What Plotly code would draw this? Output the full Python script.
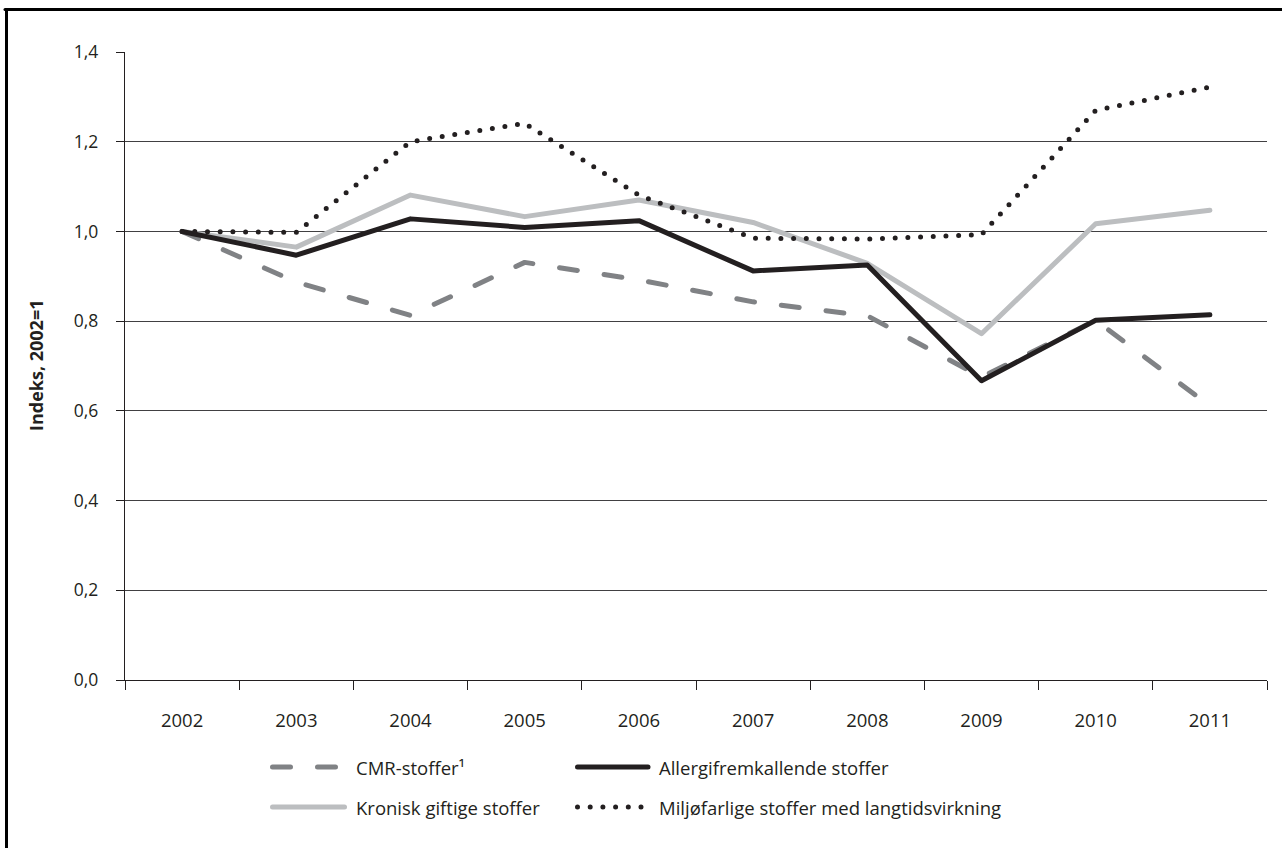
import plotly.graph_objects as go

# ---- data ----
years = ["2002", "2003", "2004", "2005", "2006", "2007", "2008", "2009", "2010", "2011"]
cmr = [1.0, 0.887, 0.813, 0.931, 0.892, 0.843, 0.812, 0.675, 0.802, 0.611]
allergi = [1.0, 0.947, 1.028, 1.009, 1.024, 0.912, 0.925, 0.667, 0.802, 0.814]
kronisk = [1.0, 0.965, 1.081, 1.033, 1.070, 1.020, 0.929, 0.772, 1.017, 1.047]
miljo = [1.0, 0.998, 1.200, 1.241, 1.081, 0.985, 0.983, 0.993, 1.270, 1.322]

name_cmr = "CMR-stoffer¹"
name_allergi = "Allergifremkallende stoffer"
name_kronisk = "Kronisk giftige stoffer"
name_miljo = "Miljøfarlige stoffer med langtidsvirkning"
y_title = "Indeks, 2002=1"

# ---- style ----
W, H = 1282, 848
L, R, T, B = 125, 15, 52, 168
PW, PH = W - L - R, H - T - B
FONT = "Open Sans"
C_TEXT = "#231f20"
C_BLACK = "#231f20"
C_DARKGRAY = "#808285"
C_LIGHTGRAY = "#bcbec0"
LW = 5
DASH_CMR = "18px,27px"
DASH_DOT = "0px,12.7px"
FS = 18.5


def px_x(px):
    return (px - L) / PW


def px_y(py):
    return (H - B - py) / PH


fig = go.Figure()
fig.add_trace(go.Scatter(x=years, y=kronisk, mode="lines", name=name_kronisk,
                         line=dict(color=C_LIGHTGRAY, width=LW)))
fig.add_trace(go.Scatter(x=years, y=cmr, mode="lines", name=name_cmr,
                         line=dict(color=C_DARKGRAY, width=LW, dash=DASH_CMR)))
fig.add_trace(go.Scatter(x=years, y=allergi, mode="lines", name=name_allergi,
                         line=dict(color=C_BLACK, width=LW)))
fig.add_trace(go.Scatter(x=years, y=miljo, mode="lines", name=name_miljo,
                         line=dict(color=C_BLACK, width=LW, dash=DASH_DOT)))

shapes = []
annotations = []

# frame (left and top edges)
shapes.append(dict(type="line", xref="paper", yref="paper",
                   x0=px_x(6.5), x1=px_x(6.5), y0=px_y(9.5), y1=px_y(H + 5),
                   line=dict(color="#000000", width=3)))
shapes.append(dict(type="line", xref="paper", yref="paper",
                   x0=px_x(5), x1=px_x(W + 5), y0=px_y(9.5), y1=px_y(9.5),
                   line=dict(color="#000000", width=3)))

# manual legend
legend_items = [
    (name_cmr, C_DARKGRAY, DASH_CMR, 272.5, 345, 767, 354),
    (name_allergi, C_BLACK, "solid", 577.5, 648, 767, 657),
    (name_kronisk, C_LIGHTGRAY, "solid", 272.5, 344.5, 807, 354),
    (name_miljo, C_BLACK, DASH_DOT, 577.5, 648, 807, 657),
]
for name, col, dash, sx0, sx1, sy, tx in legend_items:
    shapes.append(dict(type="line", xref="paper", yref="paper",
                       x0=px_x(sx0), x1=px_x(sx1), y0=px_y(sy), y1=px_y(sy),
                       line=dict(color=col, width=LW, dash=dash)))
    annotations.append(dict(text=name, xref="paper", yref="paper",
                            x=px_x(tx), y=px_y(sy), xanchor="left", yanchor="middle",
                            showarrow=False, font=dict(family=FONT, size=FS, color=C_TEXT)))

# y-axis title
annotations.append(dict(text="<b>" + y_title + "</b>", xref="paper", yref="paper",
                        x=px_x(36), y=0.5, xanchor="center", yanchor="middle",
                        textangle=-90, showarrow=False,
                        font=dict(family=FONT, size=18, color=C_TEXT)))

fig.update_layout(
    width=W, height=H,
    margin=dict(l=L, r=R, t=T, b=B),
    paper_bgcolor="white", plot_bgcolor="white",
    showlegend=False,
    separators=", ",
    font=dict(family=FONT, size=FS, color=C_TEXT),
    shapes=shapes,
    annotations=annotations,
)
fig.update_xaxes(
    type="category", range=[-0.5, len(years) - 0.5], tickson="boundaries",
    ticks="outside", ticklen=9,
    tickcolor="#231f20", tickwidth=1.3, showline=True, linecolor="#231f20",
    linewidth=1.3, showgrid=False, zeroline=False,
    tickfont=dict(family=FONT, size=FS, color=C_TEXT), ticklabelstandoff=24,
)
fig.update_yaxes(
    range=[0, 1.4], dtick=0.2, tick0=0, tickformat=".1f",
    ticks="outside", ticklen=8, tickcolor="#231f20", tickwidth=1.3,
    showline=True, linecolor="#231f20", linewidth=1.3,
    showgrid=True, gridcolor="#414042", gridwidth=1.3, zeroline=False,
    tickfont=dict(family=FONT, size=17.5, color=C_TEXT), ticklabelstandoff=14,
)

post = """
var fix = function(){
  document.querySelectorAll('.scatterlayer path.js-line, .shapelayer path').forEach(function(p){
    p.style.strokeLinecap = 'round';
    p.style.strokeLinejoin = 'round';
  });
};
fix();
var gd = document.getElementsByClassName('plotly-graph-div')[0];
if (gd && gd.on) { gd.on('plotly_afterplot', fix); }
document.body.style.margin = '0';
"""

fig.write_html("out.html", post_script=post, config={"displayModeBar": False})
